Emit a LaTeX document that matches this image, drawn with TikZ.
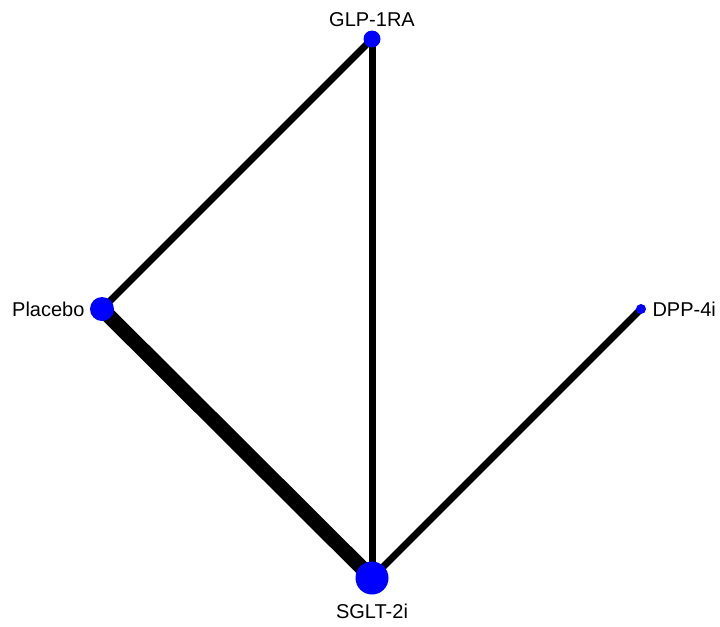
\documentclass[tikz,border=0pt]{standalone}
\usepackage{fontspec}
\setmainfont{Liberation Sans}
\usetikzlibrary{backgrounds}
\begin{document}
\begin{tikzpicture}[x=0.75pt,y=-0.75pt,
            trt node/.style={circle,fill=blue,inner sep=0pt},
            every label/.style={font=\fontsize{15}{18}\selectfont,inner sep=0pt},
            link/.style={line width=5.25pt}]
        \useasboundingbox (0,0) rectangle (720,626);

        % Define treatments
        \node[trt node,minimum size=12.75pt,label={[label distance=2.5pt]above:GLP-1RA}] (glp) at (372,39) {};
        \node[trt node,minimum size=18pt,label={[label distance=3.75pt]left:Placebo}] (plc) at (102,309) {};
        \node[trt node,minimum size=7.5pt,label={[label distance=4.5pt]right:DPP-4i}] (dpp) at (641,309) {};
        \node[trt node,minimum size=24.75pt,label={[label distance=6.5pt]below:SGLT-2i}] (sglt) at (372,578) {};

        % Draw comparisons
        \begin{scope}[on background layer]
        \path
            (glp.center) edge[link] (plc.center)
            (glp.center) edge[link] (sglt.center)
            (plc.center) edge[link,line width=11.25pt] (sglt.center)
            (sglt.center) edge[link] (dpp.center);
        \end{scope}

        \end{tikzpicture}
\end{document}
